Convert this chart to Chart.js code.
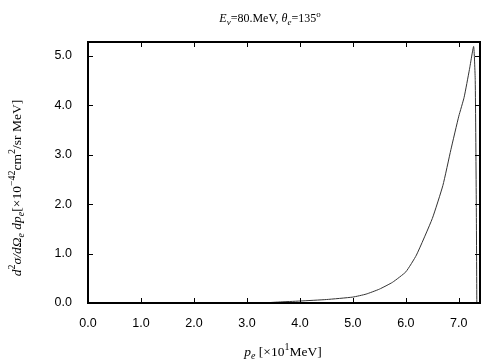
<!DOCTYPE html>
<html>
<head>
<meta charset="utf-8">
<script src="https://cdn.jsdelivr.net/npm/chart.js@4"></script>
<style>
  body { margin: 0; background: #fff; }
  #wrap { width: 504px; height: 360px; }
</style>
</head>
<body>
<div id="wrap"><canvas id="my-chart"></canvas></div>
<script>
// momentum p_e [x10 MeV] and cross section values
let momentum = [3.3, 3.6, 4.0, 4.5, 5.0, 5.25, 5.5, 5.75, 6.0, 6.2, 6.5, 6.7, 6.85, 7.0, 7.1, 7.2, 7.28, 7.31, 7.33, 7.34];
let crossSection = [0.0, 0.02, 0.04, 0.07, 0.12, 0.18, 0.28, 0.42, 0.63, 0.97, 1.71, 2.38, 3.1, 3.78, 4.16, 4.72, 5.19, 4.5, 2.0, 0.0];
let xTicks = [0, 1, 2, 3, 4, 5, 6, 7];
let yTicks = [0, 1, 2, 3, 4, 5];

const serif = "'Liberation Serif', 'DejaVu Serif', serif";

// draws a list of text pieces one after another, centred on (x, y)
function richText(ctx, parts, x, y) {
  let total = 0;
  parts.forEach(p => {
    ctx.font = p.f;
    p.w = ctx.measureText(p.t).width;
    total += p.w;
  });
  let cx = x - total / 2;
  ctx.textAlign = "left";
  ctx.textBaseline = "alphabetic";
  parts.forEach(p => {
    ctx.font = p.f;
    ctx.fillText(p.t, cx, y + (p.dy || 0));
    cx += p.w;
  });
}

const it = "italic 12px " + serif, rm = "12px " + serif;
const itS = "italic 9px " + serif, rmS = "9px " + serif;
const it13 = "italic 13.5px " + serif, rm13 = "13.5px " + serif;
const itS13 = "italic 10px " + serif, rmS13 = "10px " + serif;

const framePlugin = {
  id: "frame",
  afterDraw(chart) {
    const ctx = chart.ctx, a = chart.chartArea;
    const xs = chart.scales.x, ys = chart.scales.y;
    ctx.save();
    ctx.strokeStyle = "#000";
    ctx.lineWidth = 1;
    // inward ticks on all four sides
    ctx.beginPath();
    xTicks.forEach(v => {
      const px = Math.round(xs.getPixelForValue(v)) + 0.5;
      ctx.moveTo(px, a.bottom); ctx.lineTo(px, a.bottom - 5);
      ctx.moveTo(px, a.top); ctx.lineTo(px, a.top + 5);
    });
    yTicks.forEach(v => {
      const py = Math.round(ys.getPixelForValue(v)) + 0.5;
      ctx.moveTo(a.left, py); ctx.lineTo(a.left + 5, py);
      ctx.moveTo(a.right, py); ctx.lineTo(a.right - 5, py);
    });
    ctx.stroke();
    ctx.lineWidth = 2;
    ctx.strokeRect(a.left, a.top, a.right - a.left, a.bottom - a.top);

    ctx.fillStyle = "#000";
    // title
    richText(ctx, [
      { t: "E", f: it }, { t: "ν", f: itS, dy: 3 },
      { t: "=80.MeV, ", f: rm },
      { t: "θ", f: it }, { t: "e", f: itS, dy: 3 },
      { t: "=135", f: rm }, { t: "o", f: rmS, dy: -5 }
    ], 270, 22);
    // x axis title
    richText(ctx, [
      { t: "p", f: it13 }, { t: "e", f: itS13, dy: 3 },
      { t: " [×10", f: rm13 }, { t: "1", f: rmS13, dy: -6 },
      { t: "MeV]", f: rm13 }
    ], 283, 356);
    // y axis title
    ctx.translate(21, 188);
    ctx.rotate(-Math.PI / 2);
    richText(ctx, [
      { t: "d", f: it13 }, { t: "2", f: rmS13, dy: -6 },
      { t: "σ/dΩ", f: it13 }, { t: "e", f: itS13, dy: 3 },
      { t: " dp", f: it13 }, { t: "e", f: itS13, dy: 3 },
      { t: "[×10", f: rm13 }, { t: "−42", f: rmS13, dy: -6 },
      { t: "cm", f: rm13 }, { t: "2", f: rmS13, dy: -6 },
      { t: "/sr MeV]", f: rm13 }
    ], 0, 0);
    ctx.restore();
  }
};

let myChart = document.getElementById("my-chart").getContext("2d");

let crossChart = new Chart(myChart, {
  type: "scatter",
  data: {
    datasets: [
      {
        data: momentum.map((p, i) => ({ x: p, y: crossSection[i] })),
        showLine: true,
        borderColor: "#333333",
        borderWidth: 1,
        pointRadius: 0,
        tension: 0.15,
      },
    ],
  },
  options: {
    responsive: true,
    maintainAspectRatio: false,
    animation: false,
    layout: { padding: { top: 42, right: 24, left: 0, bottom: 0 } },
    plugins: {
      legend: { display: false },
      tooltip: { enabled: false },
    },
    scales: {
      x: {
        type: "linear",
        min: 0,
        max: 7.4,
        afterBuildTicks: s => { s.ticks = xTicks.map(v => ({ value: v })); },
        afterFit: s => { s.height = 57; },
        grid: { display: false },
        border: { display: false },
        ticks: {
          padding: 5,
          color: "#000",
          font: { family: "'Liberation Sans', Arial, sans-serif", size: 12.5 },
          callback: v => v.toFixed(1),
        },
      },
      y: {
        min: 0,
        max: 5.28,
        afterBuildTicks: s => { s.ticks = yTicks.map(v => ({ value: v })); },
        afterFit: s => { s.width = 88; },
        grid: { display: false },
        border: { display: false },
        ticks: {
          padding: 8,
          color: "#000",
          font: { family: "'Liberation Sans', Arial, sans-serif", size: 12.5 },
          callback: v => v.toFixed(1),
        },
      },
    },
  },
  plugins: [framePlugin],
});
</script>
</body>
</html>
